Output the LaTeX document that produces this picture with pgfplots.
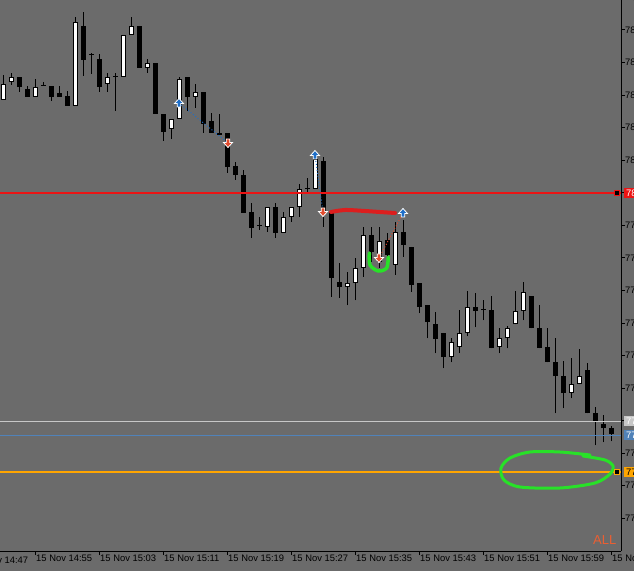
\documentclass[border=0pt]{standalone}
\usepackage{pgfplots}
\pgfplotsset{compat=1.18}
\usepackage{pgfplotstable}
\usepackage{fontspec}
\setmainfont{Liberation Sans}
\definecolor{bg}{RGB}{107,107,107}
\definecolor{mtred}{RGB}{235,20,20}
\definecolor{silverline}{RGB}{200,200,200}
\definecolor{steel}{RGB}{80,130,185}
\definecolor{mtorange}{RGB}{255,165,0}
\definecolor{arrowblue}{RGB}{30,110,200}
\definecolor{arrowred}{RGB}{225,75,45}
\definecolor{hand}{RGB}{40,225,40}
\definecolor{handred}{RGB}{220,30,30}
\definecolor{allcol}{RGB}{235,95,50}
\pgfdeclareplotmark{buyarrow}{%
  \pgfpathmoveto{\pgfqpoint{0pt}{4.5pt}}%
  \pgfpathlineto{\pgfqpoint{4.5pt}{-0.5pt}}%
  \pgfpathlineto{\pgfqpoint{1.8pt}{-0.5pt}}%
  \pgfpathlineto{\pgfqpoint{1.8pt}{-4pt}}%
  \pgfpathlineto{\pgfqpoint{-1.8pt}{-4pt}}%
  \pgfpathlineto{\pgfqpoint{-1.8pt}{-0.5pt}}%
  \pgfpathlineto{\pgfqpoint{-4.5pt}{-0.5pt}}%
  \pgfpathclose
  \pgfusepathqfillstroke}
\pgfdeclareplotmark{sellarrow}{%
  \pgfpathmoveto{\pgfqpoint{0pt}{-4.5pt}}%
  \pgfpathlineto{\pgfqpoint{4.5pt}{0.5pt}}%
  \pgfpathlineto{\pgfqpoint{1.8pt}{0.5pt}}%
  \pgfpathlineto{\pgfqpoint{1.8pt}{4pt}}%
  \pgfpathlineto{\pgfqpoint{-1.8pt}{4pt}}%
  \pgfpathlineto{\pgfqpoint{-1.8pt}{0.5pt}}%
  \pgfpathlineto{\pgfqpoint{-4.5pt}{0.5pt}}%
  \pgfpathclose
  \pgfusepathqfillstroke}
\pgfplotstableread{
k o h l c
0 78.109 78.134 78.109 78.125
1 78.127 78.136 78.124 78.132
2 78.132 78.132 78.117 78.122
3 78.120 78.123 78.112 78.112
4 78.112 78.130 78.112 78.122
5 78.123 78.127 78.123 78.123
6 78.123 78.123 78.108 78.112
7 78.116 78.123 78.112 78.112
8 78.113 78.118 78.103 78.103
9 78.103 78.192 78.103 78.187
10 78.183 78.197 78.133 78.149
11 78.154 78.156 78.135 78.154
12 78.150 78.155 78.117 78.122
13 78.125 78.136 78.117 78.132
14 78.132 78.136 78.098 78.133
15 78.132 78.174 78.132 78.174
16 78.174 78.192 78.174 78.183
17 78.183 78.183 78.141 78.141
18 78.141 78.150 78.136 78.146
19 78.146 78.146 78.095 78.095
20 78.095 78.095 78.068 78.077
21 78.080 78.090 78.070 78.090
22 78.090 78.132 78.090 78.130
23 78.132 78.132 78.098 78.112
24 78.112 78.125 78.101 78.117
25 78.117 78.117 78.076 78.085
26 78.088 78.096 78.076 78.076
27 78.074 78.095 78.074 78.076
28 78.076 78.076 78.036 78.042
29 78.043 78.047 78.029 78.034
30 78.034 78.039 77.996 77.996
31 77.997 78.006 77.971 77.981
32 77.983 77.992 77.979 77.983
33 77.982 78.002 77.977 78.002
34 78.002 78.006 77.971 77.976
35 77.976 77.997 77.976 77.992
36 77.992 78.002 77.987 78.002
37 78.002 78.025 77.992 78.020
38 78.020 78.031 78.017 78.020
39 78.020 78.059 78.020 78.050
40 78.048 78.052 77.982 77.997
41 77.997 77.997 77.912 77.931
42 77.927 77.946 77.911 77.922
43 77.922 77.937 77.904 77.926
44 77.926 77.951 77.909 77.941
45 77.941 77.982 77.932 77.974
46 77.974 77.982 77.947 77.957
47 77.947 77.982 77.941 77.968
48 77.969 77.976 77.947 77.954
49 77.944 77.987 77.934 77.977
50 77.977 77.989 77.952 77.964
51 77.962 77.962 77.917 77.924
52 77.926 77.926 77.896 77.902
53 77.904 77.904 77.871 77.887
54 77.885 77.897 77.856 77.870
55 77.876 77.876 77.841 77.852
56 77.852 77.871 77.847 77.867
57 77.862 77.899 77.856 77.876
58 77.876 77.918 77.873 77.902
59 77.902 77.916 77.882 77.898
60 77.899 77.909 77.889 77.899
61 77.899 77.913 77.861 77.861
62 77.862 77.881 77.856 77.871
63 77.871 77.883 77.861 77.881
64 77.885 77.918 77.885 77.898
65 77.898 77.927 77.889 77.917
66 77.913 77.913 77.881 77.881
67 77.881 77.904 77.861 77.861
68 77.862 77.881 77.847 77.847
69 77.847 77.871 77.796 77.833
70 77.833 77.848 77.801 77.816
71 77.816 77.851 77.811 77.825
72 77.825 77.860 77.825 77.833
73 77.839 77.846 77.796 77.796
74 77.796 77.802 77.764 77.787
75 77.785 77.794 77.767 77.781
76 77.781 77.783 77.768 77.775
}\candles
\pgfplotsset{candle/.style={only marks, mark=*, mark size=0pt, mark options={draw=none, fill=none},
  error bars/y dir=plus, error bars/y explicit, error bars/error mark=none}}
\begin{document}
\begin{tikzpicture}[font=\fontsize{9.4pt}{11pt}\selectfont]
\path[use as bounding box] (0,0) rectangle (634pt,571pt);
\fill[bg] (0,0) rectangle (634pt,571pt);
\clip (0,0) rectangle (634pt,571pt);
\begin{axis}[
  at={(0pt,20pt)}, anchor=south west,
  width=621pt, height=551pt, scale only axis,
  xmin=-0.375, xmax=77.25, ymin=77.658, ymax=78.209,
  axis x line*=bottom, axis y line*=right,
  axis line style={black, line width=1pt, -},
  every outer x axis line/.append style={-},
  every outer y axis line/.append style={-},
  tick align=outside, major tick length=4pt,
  tick style={black, line width=1pt},
  scaled y ticks=false,
  xtick={4,12,20,28,36,44,52,60,68,76},
  xticklabels={15 Nov 14:55,15 Nov 15:03,15 Nov 15:11,15 Nov 15:19,15 Nov 15:27,15 Nov 15:35,15 Nov 15:43,15 Nov 15:51,15 Nov 15:59,15 Nov 16:07},
  ytick={78.179,78.1464,78.1139,78.0813,78.0488,78.0162,77.9837,77.9511,77.9186,77.886,77.8535,77.8209,77.7884,77.7558,77.7233,77.6907},
  yticklabels={78.179,78.146,78.114,78.081,78.049,78.016,77.984,77.951,77.919,77.886,77.854,77.821,77.788,77.756,77.723,77.691},
  xticklabel style={anchor=north west, inner sep=0pt, xshift=1pt},
  yticklabel style={anchor=west, inner sep=0pt},
  clip=false,
]
% wicks
\addplot[candle, error bars/error bar style={line width=1pt, black, line cap=butt}]
  table[x=k, y=l, y error plus expr={\thisrow{h}-\thisrow{l}}] {\candles};
% bodies (outline / bear)
\addplot[candle, error bars/error bar style={line width=5pt, black, line cap=butt}]
  table[x=k, y expr={min(\thisrow{o},\thisrow{c})}, y error plus expr={max(abs(\thisrow{o}-\thisrow{c}),0.001)}] {\candles};
% bull inner
\addplot[candle, error bars/error bar style={line width=3pt, white, line cap=butt}]
  table[x=k, y expr={\thisrow{o}+0.001}, y error plus expr={max(\thisrow{c}-\thisrow{o}-0.002,0)}] {\candles};
% horizontal lines
\addplot[mtred, line width=2pt] coordinates {(-0.375,78.016) (77.25,78.016)};
\addplot[silverline, line width=1pt] coordinates {(-0.375,77.788) (77.25,77.788)};
\addplot[steel, line width=1pt] coordinates {(-0.375,77.774) (77.25,77.774)};
\addplot[mtorange, line width=1.5pt] coordinates {(-0.375,77.737) (77.25,77.737)};
\addplot[only marks, mark=square*, mark size=2.5pt, mark options={fill=black, draw=mtred, line width=1pt}] coordinates {(76.81,78.016)};
\addplot[only marks, mark=square*, mark size=2.5pt, mark options={fill=black, draw=mtorange, line width=1pt}] coordinates {(76.81,77.737)};
% trade lines
\addplot[arrowblue, line width=1pt, dash pattern=on 1pt off 2pt] coordinates {(22,78.106) (28.125,78.066)};
\addplot[arrowblue, line width=1pt, dash pattern=on 1pt off 2pt] coordinates {(39,78.054) (40,77.997)};
\addplot[arrowred, line width=1pt, dash pattern=on 1pt off 2pt] coordinates {(47,77.951) (50,77.996)};
% hand-drawn marks
\addplot[handred, line width=4pt, smooth, line cap=round] coordinates {(41.0,77.997) (42.75,77.999) (45.25,77.998) (47.1,77.997) (49.0,77.996)};
\addplot[hand, line width=3.5pt, smooth, line cap=round] coordinates {(45.79,77.956) (45.875,77.944) (46.91,77.938) (47.96,77.941) (48.16,77.952)};
\addplot[hand, line width=3pt, smooth, line cap=round] coordinates {(73.375,77.754) (69.625,77.757) (65.875,77.757) (63.375,77.751) (62.25,77.741) (62.625,77.729) (64.625,77.722) (69.625,77.721) (74.0,77.726) (75.875,77.735) (76.25,77.743) (75.25,77.749) (72.5,77.753)};
% arrows
\addplot[only marks, mark=buyarrow, mark options={fill=arrowblue, draw=white, line width=0.8pt}] coordinates {(22,78.106) (39,78.054) (50,77.996)};
\addplot[only marks, mark=sellarrow, mark options={fill=arrowred, draw=white, line width=0.8pt}] coordinates {(28.125,78.066) (40,77.997) (47,77.951)};
\coordinate (labred) at (axis cs:77.25,78.016);
\coordinate (labgrey) at (axis cs:77.25,77.788);
\coordinate (labblue) at (axis cs:77.25,77.774);
\coordinate (laborange) at (axis cs:77.25,77.737);
\coordinate (labtop) at (axis cs:77.25,78.2116);
\coordinate (lableft) at (axis cs:-4,77.658);
\coordinate (allpos) at (axis cs:76.69,77.665);
\end{axis}
\node[anchor=west, inner sep=0pt, xshift=4.7pt] at (labtop) {78.212};
\draw[black, line width=1pt] (labtop) -- ++(4pt,0);
\node[anchor=west, fill=mtred, text=white, inner xsep=2pt, inner ysep=0pt, minimum height=10pt, xshift=3pt] at (labred) {78.016};
\node[anchor=west, fill=silverline, text=white, inner xsep=2pt, inner ysep=0pt, minimum height=10pt, xshift=3pt] at (labgrey) {77.788};
\node[anchor=west, fill=steel, text=white, inner xsep=2pt, inner ysep=0pt, minimum height=10pt, xshift=3pt] at (labblue) {77.774};
\node[anchor=west, fill=mtorange, text=black, inner xsep=2pt, inner ysep=0pt, minimum height=10pt, xshift=3pt] at (laborange) {77.737};
\node[anchor=north west, inner sep=0pt, xshift=1pt, yshift=-6.3pt] at (lableft) {15 Nov 14:47};
\node[anchor=base east, inner sep=0pt, text=allcol, font=\fontsize{13pt}{15pt}\selectfont] at (allpos) {ALL};
\end{tikzpicture}
\end{document}
